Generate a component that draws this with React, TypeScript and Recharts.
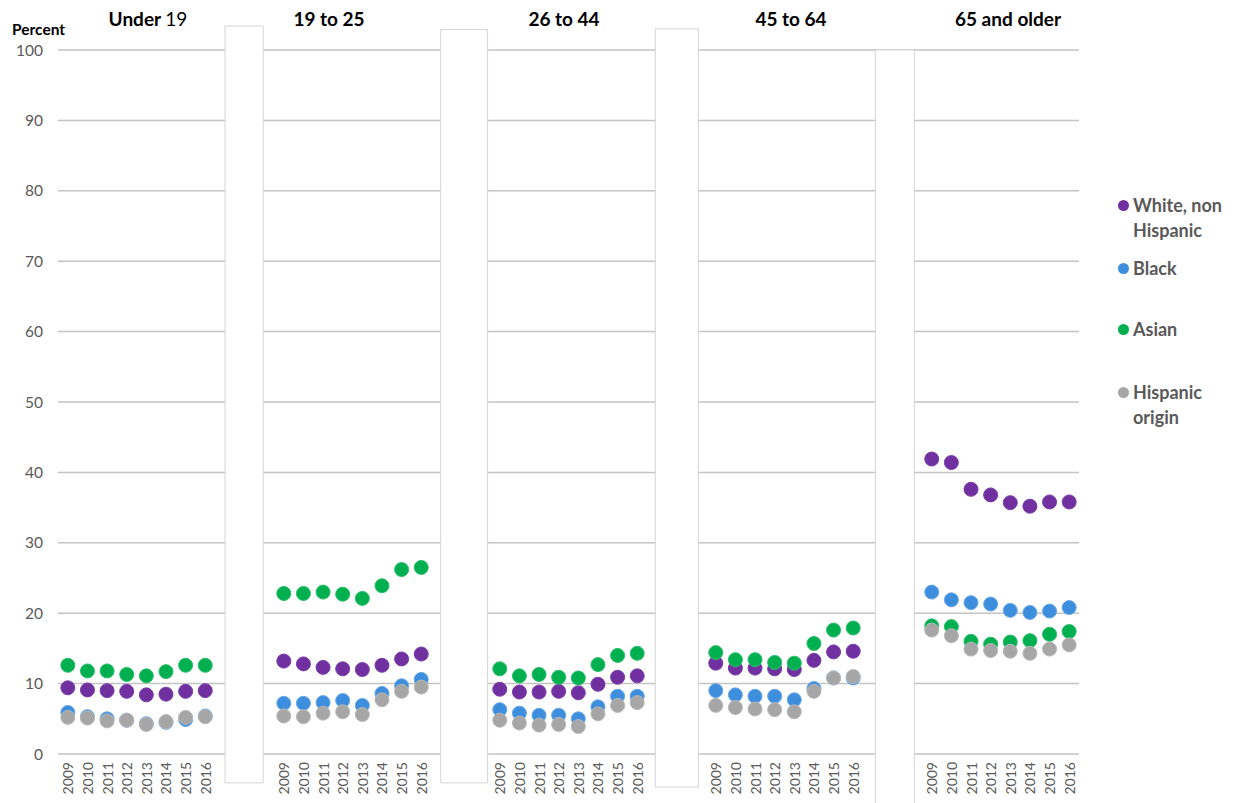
import React from 'react'
import { ComposedChart, Line, XAxis, YAxis, CartesianGrid, ReferenceArea } from 'recharts'

const years = ['2009', '2010', '2011', '2012', '2013', '2014', '2015', '2016']
const ageGroups = ['Under 19', '19 to 25', '26 to 44', '45 to 64', '65 and older']
const percentTicks = [0, 10, 20, 30, 40, 50, 60, 70, 80, 90, 100]

// one row per age group, one value per year
const whiteNonHispanic = [
  [9.4, 9.1, 9.0, 8.9, 8.4, 8.5, 8.9, 9.0],
  [13.2, 12.8, 12.3, 12.1, 12.0, 12.6, 13.5, 14.2],
  [9.2, 8.8, 8.8, 8.9, 8.7, 9.9, 10.9, 11.1],
  [12.9, 12.2, 12.2, 12.1, 12.0, 13.3, 14.5, 14.6],
  [41.9, 41.4, 37.6, 36.8, 35.7, 35.2, 35.8, 35.8],
]
const black = [
  [5.9, 5.3, 5.0, 4.8, 4.3, 4.5, 4.9, 5.4],
  [7.2, 7.2, 7.3, 7.6, 6.9, 8.6, 9.7, 10.6],
  [6.3, 5.8, 5.5, 5.5, 5.0, 6.7, 8.2, 8.2],
  [9.0, 8.4, 8.2, 8.2, 7.7, 9.3, 10.8, 10.8],
  [23.0, 21.9, 21.5, 21.3, 20.4, 20.1, 20.3, 20.8],
]
const asian = [
  [12.6, 11.8, 11.8, 11.3, 11.1, 11.7, 12.6, 12.6],
  [22.8, 22.8, 23.0, 22.7, 22.1, 23.9, 26.2, 26.5],
  [12.1, 11.1, 11.3, 10.9, 10.8, 12.7, 14.0, 14.3],
  [14.4, 13.4, 13.4, 13.0, 12.9, 15.7, 17.6, 17.9],
  [18.2, 18.1, 16.0, 15.6, 15.9, 16.1, 17.0, 17.4],
]
const hispanicOrigin = [
  [5.2, 5.1, 4.7, 4.8, 4.2, 4.6, 5.2, 5.3],
  [5.4, 5.3, 5.8, 6.0, 5.6, 7.7, 8.9, 9.5],
  [4.8, 4.4, 4.1, 4.2, 3.9, 5.7, 6.9, 7.3],
  [6.9, 6.6, 6.4, 6.3, 6.0, 8.9, 10.8, 11.0],
  [17.6, 16.8, 14.9, 14.7, 14.6, 14.3, 14.9, 15.5],
]

const series = [
  { key: 'white', name: 'White, non Hispanic', lines: ['White, non', 'Hispanic'], values: whiteNonHispanic, fill: '#7030A0', stroke: '#7a3dab' },
  { key: 'black', name: 'Black', lines: ['Black'], values: black, fill: '#3E8EDE', stroke: '#6aa8e6' },
  { key: 'asian', name: 'Asian', lines: ['Asian'], values: asian, fill: '#00B050', stroke: '#2cbd6a' },
  { key: 'hispanic', name: 'Hispanic origin', lines: ['Hispanic', 'origin'], values: hispanicOrigin, fill: '#A6A6A6', stroke: '#b8b8b8' },
]

const SLOTS = years.length + 3 // three empty slots between groups

const rows = ageGroups.flatMap((_, g) =>
  years.map((year, j) => {
    const row: any = { x: g * SLOTS + j, year }
    series.forEach(s => { row[s.key] = s.values[g][j] })
    return row
  })
)
const yearByX: Record<number, string> = {}
rows.forEach(r => { yearByX[r.x] = r.year })

// white separators between the groups (axis units)
const gapBoxes = [
  { x1: 8.01, x2: 9.95, y1: -4.1, y2: 103.4 },
  { x1: 18.99, x2: 21.38, y1: -4.1, y2: 102.9 },
  { x1: 29.92, x2: 32.11, y1: -4.7, y2: 103 },
  { x1: 41.13, x2: 43.11, y1: -7.3, y2: 100 },
]

const titleCenters = [148, 329, 564, 791, 1008]
const legendY = [205, 268, 329, 392]

const FONT = 'Lato, "Liberation Sans", Arial, sans-serif'

const YearTick = (props: any) => {
  const { x, y, payload } = props
  return (
    <text
      x={x}
      y={y}
      transform={`rotate(-90 ${x} ${y})`}
      textAnchor="end"
      dominantBaseline="central"
      fill="#595959"
      fontSize={14}
      fontFamily={FONT}
    >
      {yearByX[payload.value]}
    </text>
  )
}

export default function App() {
  return (
    <div style={{ position: 'absolute', left: 0, top: 0, width: 1256, height: 803, background: '#fff', fontFamily: FONT }}>
      <ComposedChart width={1256} height={803} data={rows} margin={{ top: 50, right: 177, bottom: 4, left: 8 }}>
        <CartesianGrid vertical={false} stroke="#c4c4c4" strokeWidth={1.5} />
        <XAxis
          type="number"
          dataKey="x"
          domain={[-0.5, 51.5]}
          ticks={rows.map(r => r.x)}
          interval={0}
          axisLine={false}
          tickLine={false}
          height={45}
          tick={(p: any) => <YearTick {...p} />}
        />
        <YAxis
          domain={[0, 100]}
          ticks={percentTicks}
          interval={0}
          axisLine={false}
          tickLine={false}
          width={50}
          tickMargin={9}
          tick={{ fill: '#595959', fontSize: 15.5, fontFamily: FONT }}
        />
        {gapBoxes.map((b, i) => (
          <ReferenceArea
            key={i}
            x1={b.x1}
            x2={b.x2}
            y1={b.y1}
            y2={b.y2}
            ifOverflow="visible"
            fill="#ffffff"
            fillOpacity={1}
            stroke="#d4d4d4"
            strokeWidth={1}
          />
        ))}
        {series.map(s => (
          <Line
            key={s.key}
            dataKey={s.key}
            name={s.name}
            stroke="none"
            dot={{ r: 7, fill: s.fill, stroke: s.stroke, strokeWidth: 1 }}
            activeDot={false}
            isAnimationActive={false}
          />
        ))}
      </ComposedChart>

      <div style={{ position: 'absolute', left: 12, top: 22, fontSize: 15.5, lineHeight: '15px', fontWeight: 700, color: '#000' }}>
        Percent
      </div>

      {ageGroups.map((t, i) => (
        <div
          key={t}
          style={{
            position: 'absolute',
            left: titleCenters[i],
            top: 9,
            transform: 'translateX(-50%)',
            whiteSpace: 'nowrap',
            fontSize: 19,
            lineHeight: '19px',
            fontWeight: 700,
            color: '#000',
          }}
        >
          {i === 0 ? <>Under <span style={{ fontWeight: 400 }}>19</span></> : t}
        </div>
      ))}

      {series.map((s, i) => (
        <div key={s.key} style={{ position: 'absolute', left: 1118, top: legendY[i] - 12, display: 'flex', alignItems: 'flex-start' }}>
          <span
            style={{
              width: 11,
              height: 11,
              borderRadius: '50%',
              background: s.fill,
              marginTop: 7,
              marginRight: 4,
              flex: 'none',
            }}
          />
          <div style={{ fontSize: 18, lineHeight: '25px', fontWeight: 700, color: '#595959' }}>
            {s.lines.map(l => <div key={l}>{l}</div>)}
          </div>
        </div>
      ))}
    </div>
  )
}
